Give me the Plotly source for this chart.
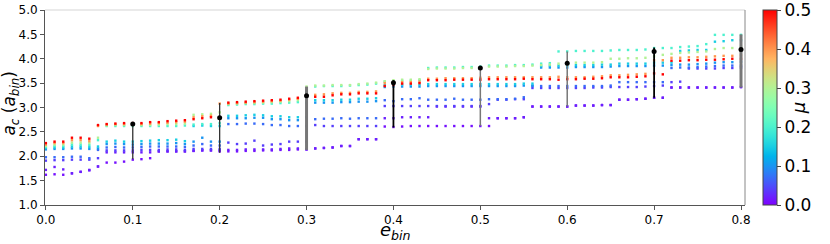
import numpy as np
import plotly.graph_objects as go

# ---------------- data ----------------
e_bin = [0.00, 0.01, 0.02, 0.03, 0.04, 0.05, 0.06, 0.07, 0.08, 0.09,
         0.10, 0.11, 0.12, 0.13, 0.14, 0.15, 0.16, 0.17, 0.18, 0.19,
         0.20, 0.21, 0.22, 0.23, 0.24, 0.25, 0.26, 0.27, 0.28, 0.29,
         0.30, 0.31, 0.32, 0.33, 0.34, 0.35, 0.36, 0.37, 0.38, 0.39,
         0.40, 0.41, 0.42, 0.43, 0.44, 0.45, 0.46, 0.47, 0.48, 0.49,
         0.50, 0.51, 0.52, 0.53, 0.54, 0.55, 0.56, 0.57, 0.58, 0.59,
         0.60, 0.61, 0.62, 0.63, 0.64, 0.65, 0.66, 0.67, 0.68, 0.69,
         0.70, 0.71, 0.72, 0.73, 0.74, 0.75, 0.76, 0.77, 0.78, 0.79, 0.80]

mu_levels = [0.01, 0.02, 0.04, 0.07, 0.10, 0.15, 0.20, 0.30, 0.40, 0.50]

ac_mu001 = [1.62, 1.63, 1.62, 1.65, 1.68, 1.71, 1.79, 1.87, 1.87, 1.89,
            1.93, 1.94, 1.96, 2.10, 2.10, 2.10, 2.10, 2.11, 2.12, 2.12,
            2.10, 2.10, 2.10, 2.11, 2.11, 2.12, 2.12, 2.13, 2.13, 2.14,
            2.14, 2.16, 2.17, 2.18, 2.21, 2.21, 2.35, 2.35, 2.35, 2.61,
            2.60, 2.61, 2.62, 2.62, 2.62, 2.62, 2.62, 2.62, 2.62, 2.62,
            2.62, 2.62, 2.78, 2.78, 2.78, 2.80, 3.02, 3.02, 3.02, 3.02,
            3.02, 3.04, 3.04, 3.04, 3.05, 3.05, 3.16, 3.16, 3.17, 3.18,
            3.20, 3.20, 3.41, 3.41, 3.41, 3.41, 3.41, 3.41, 3.41, 3.41, 3.42]
ac_mu002 = [1.72, 1.78, 1.73, 1.65, 1.68, 1.72, 1.79, 2.08, 2.08, 2.08,
            2.08, 2.08, 2.08, 2.10, 2.10, 2.10, 2.10, 2.11, 2.12, 2.12,
            2.12, 2.13, 2.13, 2.14, 2.14, 2.14, 2.14, 2.15, 2.16, 2.16,
            2.14, 2.16, 2.17, 2.18, 2.21, 2.21, 2.35, 2.35, 2.35, 2.78,
            2.78, 2.80, 2.80, 2.80, 2.80, 3.02, 3.02, 3.02, 3.02, 3.02,
            3.02, 2.78, 2.78, 2.78, 2.78, 2.80, 3.02, 3.02, 3.02, 3.02,
            3.02, 3.04, 3.04, 3.04, 3.05, 3.05, 3.16, 3.16, 3.17, 3.18,
            3.20, 3.20, 3.41, 3.41, 3.41, 3.41, 3.41, 3.41, 3.41, 3.41, 3.42]
ac_mu004 = [1.91, 1.92, 1.92, 1.93, 1.93, 1.93, 1.96, 2.12, 2.12, 2.12,
            2.12, 2.13, 2.13, 2.13, 2.14, 2.14, 2.13, 2.15, 2.15, 2.15,
            2.15, 2.28, 2.25, 2.26, 2.32, 2.22, 2.24, 2.25, 2.30, 2.30,
            2.30, 2.64, 2.62, 2.62, 2.62, 2.62, 2.62, 2.62, 2.62, 3.03,
            3.03, 3.03, 3.03, 3.03, 3.03, 3.03, 3.03, 3.03, 3.03, 3.03,
            3.03, 3.07, 3.16, 3.16, 3.17, 3.17, 3.40, 3.40, 3.40, 3.40,
            3.40, 3.40, 3.40, 3.41, 3.41, 3.42, 3.42, 3.42, 3.42, 3.43,
            3.44, 3.45, 3.52, 3.53, 3.80, 3.80, 3.80, 3.80, 3.81, 3.81, 3.82]
ac_mu007 = [1.98, 1.98, 1.98, 1.99, 1.99, 1.96, 2.13, 2.18, 2.19, 2.18,
            2.18, 2.19, 2.20, 2.20, 2.20, 2.20, 2.19, 2.22, 2.25, 2.22,
            2.22, 2.66, 2.66, 2.67, 2.67, 2.66, 2.64, 2.64, 2.62, 2.62,
            2.62, 2.76, 2.77, 2.77, 2.78, 2.77, 2.78, 2.78, 2.78, 3.15,
            3.13, 3.17, 3.17, 3.19, 3.16, 3.16, 3.16, 3.18, 3.16, 3.16,
            3.16, 3.17, 3.17, 3.17, 3.18, 3.21, 3.44, 3.44, 3.44, 3.44,
            3.44, 3.44, 3.44, 3.44, 3.44, 3.45, 3.52, 3.52, 3.52, 3.52,
            3.52, 3.52, 3.81, 3.82, 3.82, 3.83, 3.84, 3.85, 3.86, 3.86, 3.86]
ac_mu010 = [2.14, 2.15, 2.15, 2.16, 2.16, 2.15, 2.16, 2.25, 2.26, 2.25,
            2.24, 2.25, 2.26, 2.26, 2.26, 2.27, 2.25, 2.30, 2.38, 2.30,
            2.30, 2.78, 2.78, 2.78, 2.79, 2.79, 2.76, 2.76, 2.74, 2.74,
            2.80, 3.10, 3.10, 3.10, 3.11, 3.11, 3.12, 3.12, 3.13, 3.42,
            3.43, 3.43, 3.43, 3.43, 3.44, 3.44, 3.44, 3.44, 3.44, 3.44,
            3.44, 3.44, 3.44, 3.44, 3.44, 3.45, 3.45, 3.82, 3.82, 3.82,
            3.82, 3.83, 3.83, 3.83, 3.83, 3.84, 3.85, 3.85, 3.85, 3.85,
            3.86, 3.86, 3.87, 3.88, 3.88, 3.89, 3.90, 3.92, 3.93, 3.93, 3.94]
ac_mu015 = [2.17, 2.18, 2.18, 2.20, 2.20, 2.19, 2.20, 2.30, 2.32, 2.30,
            2.30, 2.31, 2.32, 2.33, 2.33, 2.34, 2.31, 2.62, 2.63, 2.62,
            2.62, 2.83, 2.83, 2.84, 2.85, 2.84, 2.82, 2.82, 2.80, 2.80,
            3.10, 3.15, 3.15, 3.15, 3.16, 3.16, 3.18, 3.18, 3.19, 3.46,
            3.47, 3.47, 3.47, 3.47, 3.48, 3.48, 3.48, 3.48, 3.48, 3.48,
            3.48, 3.48, 3.48, 3.48, 3.48, 3.49, 3.49, 3.85, 3.86, 3.86,
            3.86, 3.87, 3.87, 3.87, 3.88, 3.88, 3.90, 3.90, 3.90, 3.90,
            3.92, 3.92, 3.92, 4.16, 4.17, 4.18, 4.18, 4.35, 4.36, 4.38, 4.38]
ac_mu020 = [2.19, 2.21, 2.21, 2.24, 2.24, 2.23, 2.33, 2.62, 2.62, 2.62,
            2.62, 2.62, 2.62, 2.62, 2.62, 2.62, 2.63, 2.65, 2.66, 2.66,
            2.68, 3.05, 3.06, 3.07, 3.07, 3.08, 3.08, 3.09, 3.10, 3.11,
            3.30, 3.43, 3.44, 3.44, 3.44, 3.45, 3.46, 3.47, 3.49, 3.53,
            3.54, 3.55, 3.55, 3.56, 3.81, 3.82, 3.82, 3.82, 3.83, 3.83,
            3.84, 3.86, 3.86, 3.86, 3.87, 3.87, 3.88, 3.90, 3.91, 4.15,
            4.15, 4.16, 4.16, 4.16, 4.16, 4.17, 4.18, 4.18, 4.18, 4.19,
            4.22, 4.22, 4.22, 4.24, 4.25, 4.26, 4.30, 4.49, 4.49, 4.49, 4.49]
ac_mu030 = [2.21, 2.24, 2.24, 2.28, 2.28, 2.27, 2.38, 2.63, 2.64, 2.64,
            2.64, 2.64, 2.64, 2.65, 2.66, 2.66, 2.67, 2.85, 2.86, 2.87,
            2.90, 3.07, 3.08, 3.09, 3.09, 3.10, 3.11, 3.12, 3.13, 3.15,
            3.43, 3.45, 3.45, 3.46, 3.46, 3.46, 3.48, 3.49, 3.51, 3.54,
            3.56, 3.57, 3.57, 3.58, 3.79, 3.80, 3.80, 3.80, 3.81, 3.81,
            3.82, 3.84, 3.84, 3.84, 3.85, 3.85, 3.86, 3.87, 3.88, 3.90,
            3.91, 3.92, 3.92, 3.92, 3.93, 4.00, 4.00, 4.01, 4.01, 4.02,
            4.05, 4.08, 4.10, 4.12, 4.13, 4.14, 4.15, 4.20, 4.22, 4.22, 4.25]
ac_mu040 = [2.24, 2.27, 2.27, 2.33, 2.33, 2.31, 2.62, 2.65, 2.66, 2.66,
            2.66, 2.66, 2.67, 2.68, 2.69, 2.70, 2.71, 2.80, 2.82, 2.83,
            3.08, 3.08, 3.09, 3.10, 3.11, 3.12, 3.13, 3.14, 3.16, 3.18,
            3.28, 3.26, 3.27, 3.29, 3.30, 3.30, 3.32, 3.32, 3.33, 3.50,
            3.50, 3.52, 3.52, 3.53, 3.59, 3.59, 3.60, 3.60, 3.60, 3.60,
            3.61, 3.62, 3.62, 3.62, 3.62, 3.62, 3.62, 3.62, 3.62, 3.63,
            3.62, 3.62, 3.62, 3.63, 3.64, 3.66, 3.66, 3.67, 3.68, 3.69,
            3.97, 3.97, 4.02, 4.02, 4.03, 4.03, 4.04, 4.05, 4.06, 4.06, 4.07]
ac_mu050 = [2.27, 2.30, 2.30, 2.38, 2.38, 2.36, 2.64, 2.66, 2.67, 2.68,
            2.68, 2.68, 2.70, 2.70, 2.72, 2.73, 2.74, 2.76, 2.78, 2.80,
            2.80, 3.10, 3.11, 3.12, 3.13, 3.14, 3.15, 3.16, 3.18, 3.20,
            3.22, 3.22, 3.22, 3.25, 3.27, 3.27, 3.29, 3.29, 3.29, 3.44,
            3.46, 3.49, 3.49, 3.50, 3.56, 3.56, 3.56, 3.57, 3.57, 3.57,
            3.57, 3.58, 3.58, 3.58, 3.58, 3.59, 3.58, 3.58, 3.58, 3.57,
            3.58, 3.58, 3.59, 3.59, 3.60, 3.62, 3.62, 3.62, 3.63, 3.64,
            3.70, 3.68, 3.96, 3.96, 3.97, 3.97, 3.98, 3.98, 3.99, 4.00, 4.00]

# mean and spread markers
err_e = [0.1, 0.2, 0.3, 0.4, 0.5, 0.6, 0.7, 0.8]
err_mean = [2.66, 2.79, 3.24, 3.51, 3.81, 3.91, 4.15, 4.19]
err_hi = [2.68, 3.09, 3.43, 3.56, 3.84, 4.15, 4.23, 4.50]
err_lo = [1.94, 2.07, 2.13, 2.59, 2.62, 3.02, 3.20, 3.41]

# tick labels
x_ticks = [0.0, 0.1, 0.2, 0.3, 0.4, 0.5, 0.6, 0.7, 0.8]
y_ticks = [1.0, 1.5, 2.0, 2.5, 3.0, 3.5, 4.0, 4.5, 5.0]
cbar_ticks = [0.0, 0.1, 0.2, 0.3, 0.4, 0.5]

# ---------------- styling ----------------
def mpl_rainbow(n=21):
    scale = []
    for k in range(n):
        x = k / (n - 1)
        r = min(1.0, abs(2 * x - 0.5))
        g = max(0.0, np.sin(np.pi * x))
        b = max(0.0, np.cos(np.pi * x / 2))
        scale.append([x, f"rgb({int(r*255)},{int(g*255)},{int(b*255)})"])
    return scale

series = [ac_mu001, ac_mu002, ac_mu004, ac_mu007, ac_mu010,
          ac_mu015, ac_mu020, ac_mu030, ac_mu040, ac_mu050]

xs, ys, cs = [], [], []
for mu, vals in zip(mu_levels, series):
    xs += e_bin
    ys += vals
    cs += [mu] * len(vals)

FONT = "DejaVu Sans"
fig = go.Figure()
fig.add_trace(go.Scatter(
    x=xs, y=ys, mode="markers",
    marker=dict(size=2.4, symbol="square", color=cs, cmin=0, cmax=0.5008,
                colorscale=mpl_rainbow(), line=dict(width=0),
                colorbar=dict(
                    x=1.0257, xanchor="left", xpad=0,
                    y=0.5, yanchor="middle", ypad=0,
                    len=1, lenmode="fraction", thickness=14,
                    outlinewidth=1, outlinecolor="#444",
                    tickvals=cbar_ticks, ticktext=[f"{t:.1f}" for t in cbar_ticks],
                    ticks="outside", ticklen=4, tickcolor="#444",
                    tickfont=dict(family=FONT, size=17, color="black"),
                    title=dict(text="<i>μ</i>", side="right",
                               font=dict(family=FONT, size=18, color="black")),
                )),
    showlegend=False, hoverinfo="skip"))

bar_colors = ["#333", "#333", "#777", "#000", "#777", "#777", "#000", "#777"]
bar_widths = [1.3, 1.3, 3.0, 1.8, 1.5, 1.5, 1.8, 3.0]
for k in range(len(err_e)):
    fig.add_trace(go.Scatter(
        x=[err_e[k]], y=[err_mean[k]], mode="markers",
        marker=dict(size=5, color="black"),
        error_y=dict(type="data", symmetric=False,
                     array=[err_hi[k] - err_mean[k]],
                     arrayminus=[err_mean[k] - err_lo[k]],
                     color=bar_colors[k], thickness=bar_widths[k], width=0),
        showlegend=False, hoverinfo="skip"))

axis_common = dict(showline=True, linecolor="#555", linewidth=1, mirror=False,
                   ticks="outside", ticklen=4, tickcolor="#555",
                   showgrid=False, zeroline=False, automargin=False,
                   tickfont=dict(family=FONT, size=12, color="black"))

fig.update_layout(
    width=830, height=244,
    margin=dict(l=45, r=85, t=10, b=39, autoexpand=False),
    paper_bgcolor="white", plot_bgcolor="white",
    hovermode=False,
    xaxis=dict(range=[-0.001, 0.8046], tickvals=x_ticks,
               ticktext=[f"{t:.1f}" for t in x_ticks], **axis_common),
    yaxis=dict(range=[1.0, 5.0], tickvals=y_ticks,
               ticktext=[f"{t:.1f}" for t in y_ticks], **axis_common),
    annotations=[
        dict(text="<i>e</i><sub><i>bin</i></sub>", xref="paper", yref="paper",
             x=0.5, y=0, yshift=-26, xanchor="center", yanchor="middle",
             showarrow=False, font=dict(family=FONT, size=18, color="black")),
        dict(text="<i>a</i><sub><i>c</i></sub> (<i>a</i><sub><i>bin</i></sub>)",
             xref="paper", yref="paper", x=0, xshift=-34, y=0.52,
             xanchor="center", yanchor="middle", textangle=-90,
             showarrow=False, font=dict(family=FONT, size=17, color="black")),
    ],
    shapes=[
        dict(type="line", xref="paper", yref="paper", x0=0, x1=1, y0=1, y1=1,
             line=dict(color="#e3e3e3", width=1.5)),
        dict(type="line", xref="paper", yref="paper", x0=1, x1=1, y0=0, y1=1,
             line=dict(color="#888", width=1)),
    ],
)

fig.write_html("out.html",
               config={"displayModeBar": False, "staticPlot": True},
               post_script="document.body.style.margin='0';"
                           "document.body.style.padding='0';"
                           "document.body.style.overflow='hidden';")
